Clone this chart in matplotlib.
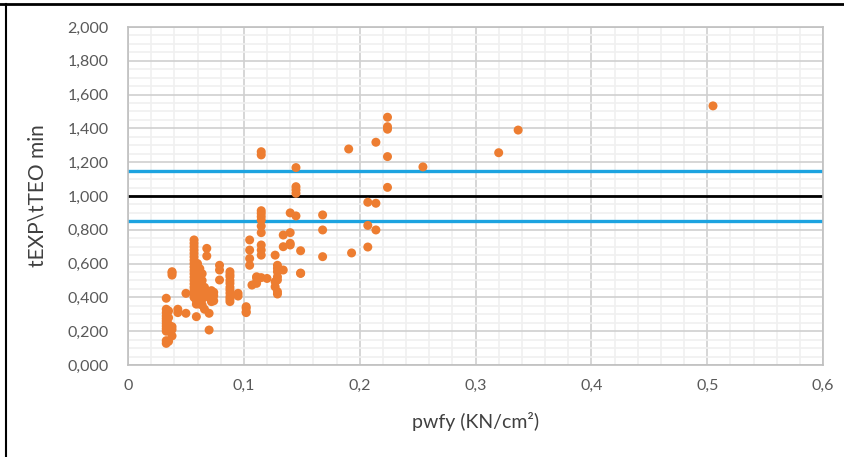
import matplotlib.pyplot as plt
from matplotlib.lines import Line2D
from matplotlib.ticker import MultipleLocator, FuncFormatter

plt.rcParams['font.family'] = ['Lato', 'DejaVu Sans']

# pwfy (KN/cm2) and tEXP/tTEO min, grouped by column of points
x_groups = [0.033, 0.035, 0.038, 0.043, 0.05, 0.057, 0.059, 0.06, 0.062, 0.064,
            0.066, 0.068, 0.07, 0.072, 0.074, 0.079, 0.088, 0.095, 0.102, 0.105,
            0.107, 0.111, 0.115, 0.12, 0.127, 0.129, 0.134, 0.14, 0.145, 0.149,
            0.168, 0.1905, 0.193, 0.207, 0.214, 0.224, 0.2546, 0.320, 0.3368, 0.505]
y_groups = [
    [0.395, 0.33, 0.31, 0.29, 0.275, 0.26, 0.245, 0.23, 0.215, 0.20, 0.144, 0.128],
    [0.32, 0.28, 0.24, 0.21, 0.14],
    [0.552, 0.532, 0.545, 0.227, 0.21, 0.172],
    [0.33, 0.31],
    [0.424, 0.306],
    [0.74, 0.72, 0.70, 0.68, 0.66, 0.64, 0.62, 0.60, 0.58, 0.56, 0.54, 0.52,
     0.50, 0.48, 0.46, 0.44, 0.42, 0.40],
    [0.286, 0.36, 0.38],
    [0.55, 0.50, 0.45, 0.40, 0.60],
    [0.43, 0.47, 0.52, 0.57, 0.36],
    [0.54, 0.44, 0.39, 0.355, 0.50],
    [0.42, 0.33, 0.46],
    [0.69, 0.645, 0.434],
    [0.207, 0.306, 0.40],
    [0.375, 0.404, 0.44, 0.42],
    [0.38, 0.41, 0.43],
    [0.59, 0.562, 0.503],
    [0.552, 0.535, 0.522, 0.50, 0.483, 0.46, 0.444, 0.425, 0.404, 0.39, 0.375],
    [0.424, 0.408],
    [0.345, 0.335, 0.315, 0.31],
    [0.74, 0.68, 0.63, 0.59],
    [0.473],
    [0.483, 0.517, 0.522, 0.493],
    [1.262, 1.243, 0.913, 0.897, 0.878, 0.858, 0.822, 0.783, 0.71, 0.68, 0.65, 0.517],
    [0.512],
    [0.65, 0.493, 0.463],
    [0.59, 0.572, 0.552, 0.522, 0.503, 0.434, 0.42],
    [0.769, 0.70, 0.562],
    [0.90, 0.783, 0.71, 0.72],
    [1.168, 1.055, 1.036, 1.016, 0.882],
    [0.676, 0.544, 0.542],
    [0.888, 0.799, 0.641],
    [1.278],
    [0.663],
    [0.963, 0.826, 0.698],
    [1.318, 0.957, 0.799],
    [1.466, 1.41, 1.395, 1.233, 1.051],
    [1.172],
    [1.256],
    [1.39],
    [1.533],
]

ref_x = [0, 0.6]
upper = [1.15, 1.15]
mean = [1.0, 1.0]
lower = [0.85, 0.85]

xs, ys = [], []
for xv, yl in zip(x_groups, y_groups):
    for yv in yl:
        xs.append(xv)
        ys.append(yv)

fig = plt.figure(figsize=(8.45, 4.57), dpi=100)
ax = fig.add_axes([0.1515, 0.2013, 0.8225, 0.7397])

ax.set_xlim(0, 0.6)
ax.set_ylim(0, 2.0)
ax.xaxis.set_major_locator(MultipleLocator(0.1))
ax.xaxis.set_minor_locator(MultipleLocator(0.02))
ax.yaxis.set_major_locator(MultipleLocator(0.2))
ax.yaxis.set_minor_locator(MultipleLocator(0.05))
ax.grid(which='minor', color='#F0F0F0', lw=1.2, zorder=0)
ax.grid(which='major', color='#D0D0D0', lw=1.2, zorder=0)
ax.set_axisbelow(True)

ax.xaxis.set_major_formatter(FuncFormatter(
    lambda v, p: '0' if abs(v) < 1e-9 else f'{v:.1f}'.replace('.', ',')))
ax.yaxis.set_major_formatter(FuncFormatter(lambda v, p: f'{v:.3f}'.replace('.', ',')))
ax.tick_params(which='both', length=0, colors='#595959', labelsize=11.5)
ax.tick_params(axis='x', pad=10)
ax.tick_params(axis='y', pad=14)

for s in ax.spines.values():
    s.set_color('#BFBFBF')
    s.set_linewidth(1.2)

ax.plot(ref_x, upper, color='#1CA3E0', lw=2.4, zorder=2)
ax.plot(ref_x, lower, color='#1CA3E0', lw=2.4, zorder=2)
ax.plot(ref_x, mean, color='#000000', lw=2.0, zorder=2)
ax.scatter(xs, ys, s=42, color='#ED7D31', edgecolors='none', zorder=3)

ax.set_xlabel('pwfy (KN/cm²)', fontsize=14, color='#404040', labelpad=14)
ax.set_ylabel('tEXP\\tTEO min', fontsize=15, color='#404040', labelpad=14)

# outer frame of the pasted chart (top and left edges visible)
fig.add_artist(Line2D([0, 1], [1 - 4 / 457, 1 - 4 / 457], color='black', lw=2,
                      transform=fig.transFigure))
fig.add_artist(Line2D([6 / 845, 6 / 845], [0, 1 - 4 / 457], color='black', lw=1.5,
                      transform=fig.transFigure))

fig.savefig('out.png', dpi=100)
